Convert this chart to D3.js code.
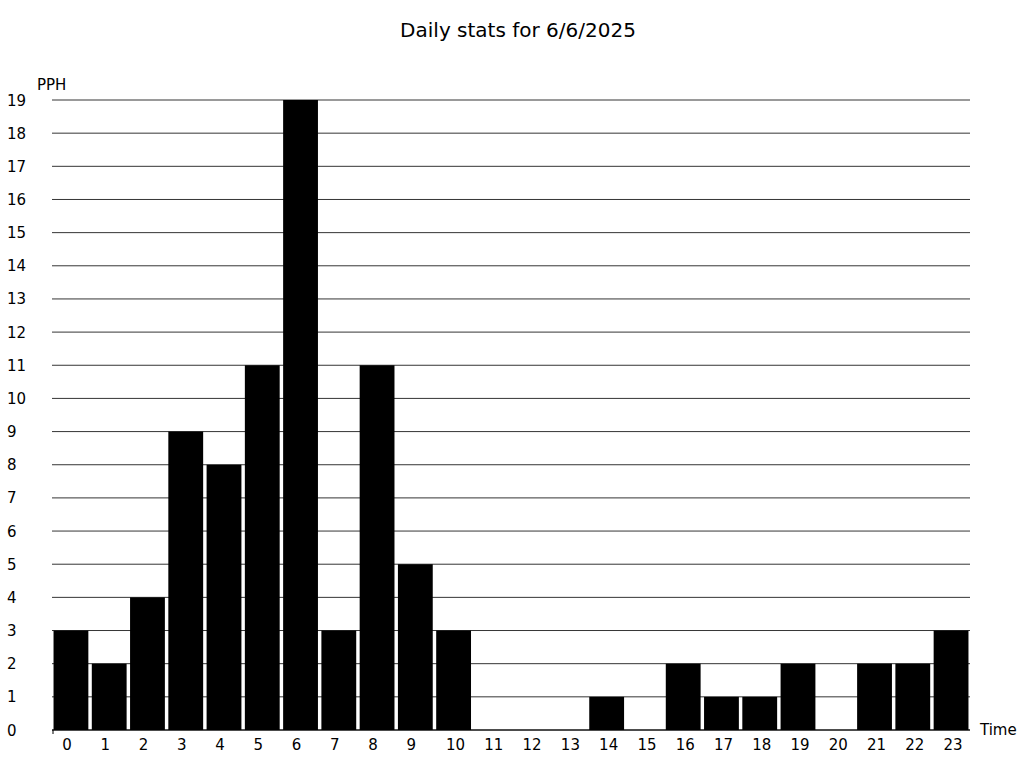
<!DOCTYPE html>
<html><head><meta charset="utf-8">
<script src="https://cdn.jsdelivr.net/npm/d3@7"></script>
<style>body{margin:0;background:#fff;} text{font-family:"DejaVu Sans",sans-serif;}</style>
</head><body>
<svg id="c" width="1024" height="768"></svg>
<script>
const hours = ["0","1","2","3","4","5","6","7","8","9","10","11","12","13","14","15","16","17","18","19","20","21","22","23"];
const pph = [3,2,4,9,8,11,19,3,11,5,3,0,0,0,1,0,2,1,1,2,0,2,2,3];
const yTicks = d3.range(0,20);
const title = "Daily stats for 6/6/2025";

const svg = d3.select("#c");
const L=52, R=970, T=100, B=730;
const x = d3.scaleBand().domain(hours).range([L,R]).paddingInner(0.09).paddingOuter(0.04);
const y = d3.scaleLinear().domain([0,19]).range([B,T]);

svg.append("text").attr("x",518).attr("y",37).attr("text-anchor","middle").attr("font-size",20).text(title);

svg.append("g").selectAll("line").data(yTicks).join("line")
  .attr("x1",L).attr("x2",R).attr("y1",d=>y(d)).attr("y2",d=>y(d))
  .attr("stroke", "#000").attr("stroke-width",0.8);

svg.append("g").selectAll("text").data(yTicks).join("text")
  .attr("x",7).attr("y",d=>y(d)+5.5).attr("font-size",15).text(d=>d);

svg.append("g").selectAll("rect").data(pph).join("rect")
  .attr("x",(d,i)=>x(hours[i])).attr("width",x.bandwidth())
  .attr("y",d=>y(d)).attr("height",d=>B-y(d)).attr("fill","#000");

svg.append("line").attr("x1",L).attr("x2",R).attr("y1",B).attr("y2",B).attr("stroke","#000");
svg.append("line").attr("x1",L+1).attr("x2",L+1).attr("y1",B).attr("y2",B+4).attr("stroke","#000");

svg.append("g").selectAll("text").data(hours).join("text")
  .attr("x",d=>x(d)+x.bandwidth()/2 + (d.length===1?-4:2)).attr("y",750)
  .attr("text-anchor","middle").attr("font-size",15).text(d=>d);

svg.append("text").attr("x",37).attr("y",90).attr("font-size",15).text("PPH");
svg.append("text").attr("x",980).attr("y",735).attr("font-size",15).text("Time");
</script>
</body></html>
